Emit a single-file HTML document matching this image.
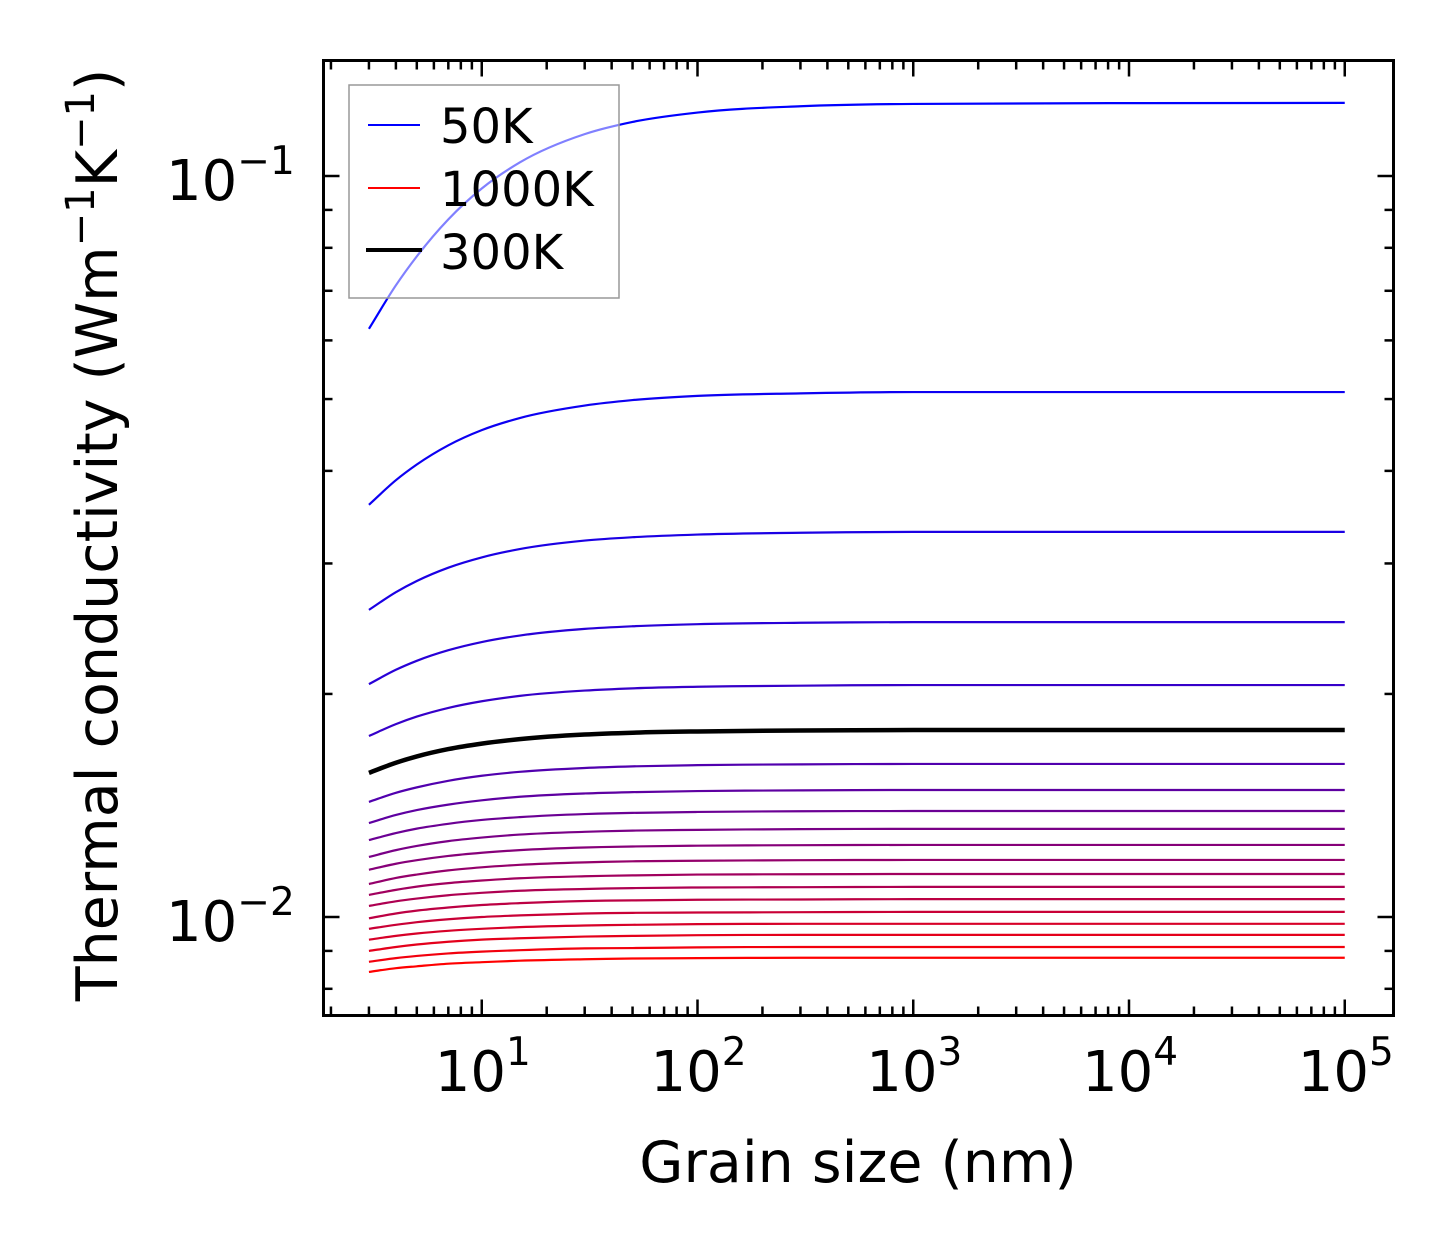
<!DOCTYPE html>
<html><head><meta charset="utf-8"><style>
html,body{margin:0;padding:0;background:#fff;}
svg{display:block;font-family:"DejaVu Sans","Liberation Sans",sans-serif;}
</style></head><body>
<svg id="chart" width="1454" height="1254" viewBox="0 0 1454 1254" xmlns="http://www.w3.org/2000/svg">
<rect x="0" y="0" width="1454" height="1254" fill="#fff"/>
<g id="curves"></g>
<g id="legend">
  <rect x="349" y="85" width="270" height="213" fill="rgba(255,255,255,0.5)" stroke="#999" stroke-width="1.5"/>
  <line x1="368" y1="125" x2="420" y2="125" stroke="#0000ff" stroke-width="2"/>
  <text x="440" y="143" font-size="48">50K</text>
  <line x1="368" y1="188" x2="420" y2="188" stroke="#ff0000" stroke-width="2"/>
  <text x="440" y="206" font-size="48">1000K</text>
  <line x1="366" y1="250" x2="422" y2="250" stroke="#000" stroke-width="4"/>
  <text x="440" y="269" font-size="48">300K</text>
</g>
<g id="axes"></g>
<rect x="323.5" y="60.5" width="1070" height="955" fill="none" stroke="#000" stroke-width="3"/>
<text x="858" y="1182" font-size="57" text-anchor="middle">Grain size (nm)</text>
<text transform="translate(117,535) rotate(-90)" font-size="57" text-anchor="middle">Thermal conductivity (Wm<tspan dy="-23" font-size="40">−1</tspan><tspan dy="23">K</tspan><tspan dy="-23" font-size="40">−1</tspan><tspan dy="23">)</tspan></text>
</svg>
<script>
const grainSizes = [3, 4, 5, 7, 10, 15, 30, 50, 100, 300, 1000, 100000];
const temperatures = [50,100,150,200,250,300,350,400,450,500,550,600,650,700,750,800,850,900,950,1000];
const k50   = [0.0622, 0.0712, 0.0779, 0.0874, 0.0962, 0.1043, 0.1139, 0.1183, 0.1218, 0.1242, 0.1251, 0.1255];
const k100  = [0.0360, 0.03886, 0.0408, 0.04331, 0.0454, 0.04714, 0.0490, 0.04984, 0.0505, 0.05089, 0.0511, 0.0511];
const k150  = [0.02597, 0.02744, 0.02841, 0.02961, 0.03057, 0.03137, 0.03221, 0.03255, 0.03282, 0.03300, 0.03309, 0.03309];
const k200  = [0.02062, 0.02156, 0.02217, 0.02291, 0.02350, 0.02398, 0.02448, 0.02468, 0.02484, 0.02495, 0.02500, 0.02500];
const k250  = [0.01755, 0.01821, 0.01864, 0.01915, 0.01955, 0.01988, 0.02021, 0.02035, 0.02045, 0.02052, 0.02056, 0.02056];
const k300  = [0.01565, 0.01615, 0.01647, 0.01685, 0.01714, 0.01738, 0.01763, 0.01773, 0.01780, 0.01785, 0.01788, 0.01788];
const k350  = [0.01430, 0.01471, 0.01496, 0.01527, 0.01551, 0.01570, 0.01589, 0.01597, 0.01603, 0.01607, 0.01609, 0.01609];
const k400  = [0.01339, 0.01373, 0.01394, 0.01418, 0.01437, 0.01453, 0.01468, 0.01474, 0.01479, 0.01482, 0.01484, 0.01484];
const k450  = [0.01270, 0.01298, 0.01316, 0.01336, 0.01352, 0.01364, 0.01377, 0.01382, 0.01386, 0.01389, 0.01390, 0.01390];
const k500  = [0.01205, 0.01231, 0.01247, 0.01266, 0.01280, 0.01292, 0.01303, 0.01308, 0.01311, 0.01314, 0.01315, 0.01315];
const k550  = [0.01158, 0.01180, 0.01193, 0.01209, 0.01221, 0.01231, 0.01241, 0.01245, 0.01248, 0.01250, 0.01251, 0.01251];
const k600  = [0.01108, 0.01129, 0.01141, 0.01156, 0.01167, 0.01176, 0.01185, 0.01189, 0.01191, 0.01193, 0.01194, 0.01194];
const k650  = [0.01071, 0.01088, 0.01099, 0.01111, 0.01120, 0.01128, 0.01135, 0.01138, 0.01141, 0.01142, 0.01143, 0.01143];
const k700  = [0.01035, 0.01050, 0.01059, 0.01070, 0.01078, 0.01085, 0.01091, 0.01094, 0.01096, 0.01097, 0.01098, 0.01098];
const k750  = [0.00996, 0.01011, 0.01020, 0.01030, 0.01038, 0.01044, 0.01051, 0.01053, 0.01055, 0.01056, 0.01057, 0.01057];
const k800  = [0.00964, 0.00976, 0.00984, 0.00993, 0.01000, 0.01005, 0.01011, 0.01013, 0.01014, 0.01015, 0.01016, 0.01016];
const k850  = [0.00932, 0.00943, 0.00950, 0.00958, 0.00964, 0.00969, 0.00974, 0.00976, 0.00978, 0.00979, 0.00979, 0.00979];
const k900  = [0.00900, 0.00911, 0.00918, 0.00926, 0.00932, 0.00936, 0.00941, 0.00943, 0.00945, 0.00946, 0.00946, 0.00946];
const k950  = [0.00870, 0.00880, 0.00886, 0.00893, 0.00898, 0.00902, 0.00907, 0.00908, 0.00910, 0.00911, 0.00911, 0.00911];
const k1000 = [0.00843, 0.00853, 0.00858, 0.00865, 0.00869, 0.00873, 0.00877, 0.00879, 0.00880, 0.00881, 0.00881, 0.00881];
const series = [k50,k100,k150,k200,k250,k300,k350,k400,k450,k500,k550,k600,k650,k700,k750,k800,k850,k900,k950,k1000];
const xTickExps = [1,2,3,4,5];
const yTickExps = [-1,-2];

const NS = "http://www.w3.org/2000/svg";
const X0 = 266, XD = 215.75;
const Y1 = 176, YD = 741;
const PL = 323.5, PR = 1393.5, PT = 60.5, PB = 1015.5;
function xs(v){ return X0 + XD*Math.log10(v); }
function ys(v){ return Y1 - YD*(Math.log10(v) + 1); }

function mk(tag, attrs, parent){
  const el = document.createElementNS(NS, tag);
  for (const k in attrs) el.setAttribute(k, attrs[k]);
  parent.appendChild(el);
  return el;
}

function monotonePath(px, py){
  const n = px.length, d = [], m = [];
  for (let i=0;i<n-1;i++) d.push((py[i+1]-py[i])/(px[i+1]-px[i]));
  m[0]=d[0]; m[n-1]=d[n-2];
  for (let i=1;i<n-1;i++){
    if (d[i-1]*d[i] <= 0) { m[i]=0; continue; }
    const h0=px[i]-px[i-1], h1=px[i+1]-px[i];
    m[i] = (d[i-1]*h1 + d[i]*h0)/(h0+h1);
  }
  for (let i=0;i<n-1;i++){
    if (d[i]===0){ m[i]=0; m[i+1]=0; continue; }
    const a=m[i]/d[i], b=m[i+1]/d[i], s=a*a+b*b;
    if (s>9){ const t=3/Math.sqrt(s); m[i]=t*a*d[i]; m[i+1]=t*b*d[i]; }
  }
  let p = "M"+px[0].toFixed(2)+","+py[0].toFixed(2);
  for (let i=0;i<n-1;i++){
    const h=(px[i+1]-px[i])/3;
    p += " C"+(px[i]+h).toFixed(2)+","+(py[i]+m[i]*h).toFixed(2)+" "+(px[i+1]-h).toFixed(2)+","+(py[i+1]-m[i+1]*h).toFixed(2)+" "+px[i+1].toFixed(2)+","+py[i+1].toFixed(2);
  }
  return p;
}

const cg = document.getElementById("curves");
const nS = series.length;
const order = [];
for (let i=0;i<nS;i++) if (temperatures[i]!==300) order.push(i);
order.push(temperatures.indexOf(300));
order.forEach(function(i){
  const t = i/(nS-1);
  const isBlack = temperatures[i]===300;
  const col = isBlack ? "#000" : "rgb("+Math.round(255*t)+",0,"+Math.round(255*(1-t))+")";
  const px = grainSizes.map(xs), py = series[i].map(ys);
  const path = mk("path", {d: monotonePath(px, py), fill:"none", stroke:col, "stroke-width": isBlack?4.5:2.2}, cg);
  
  
});

const ax = document.getElementById("axes");
const MAJ = 16, MIN = 9;
for (let e=0;e<=5;e++){
  for (let m=1;m<=9;m++){
    const v = m*Math.pow(10,e), x = xs(v);
    if (x < PL+1 || x > PR-1) continue;
    const L = m===1?MAJ:MIN;
    const t1 = mk("line",{x1:x,y1:PB,x2:x,y2:PB-L,stroke:"#000","stroke-width":2.5},ax);
    
    
    const t2 = mk("line",{x1:x,y1:PT,x2:x,y2:PT+L,stroke:"#000","stroke-width":2.5},ax);
    
    
  }
}
xTickExps.forEach(function(e){
  const x = xs(Math.pow(10,e));
  const tx = mk("text",{x:x-47,y:1091,"font-size":56},ax);
  
  
  tx.innerHTML = '10<tspan dy="-26" font-size="39">'+e+'</tspan>';
});
for (let e=-3;e<=-1;e++){
  for (let m=1;m<=9;m++){
    const v = m*Math.pow(10,e), y = ys(v);
    if (y < PT+1 || y > PB-1) continue;
    const L = m===1?MAJ:MIN;
    const t1 = mk("line",{x1:PL,y1:y,x2:PL+L,y2:y,stroke:"#000","stroke-width":2.5},ax);
    
    
    const t2 = mk("line",{x1:PR,y1:y,x2:PR-L,y2:y,stroke:"#000","stroke-width":2.5},ax);
    
    
  }
}
yTickExps.forEach(function(e){
  const y = ys(Math.pow(10,e));
  const tx = mk("text",{x:166,y:y+24,"font-size":56},ax);
  
  
  tx.innerHTML = '10<tspan dy="-26" font-size="39">−'+(-e)+'</tspan>';
});
</script>
</body></html>
